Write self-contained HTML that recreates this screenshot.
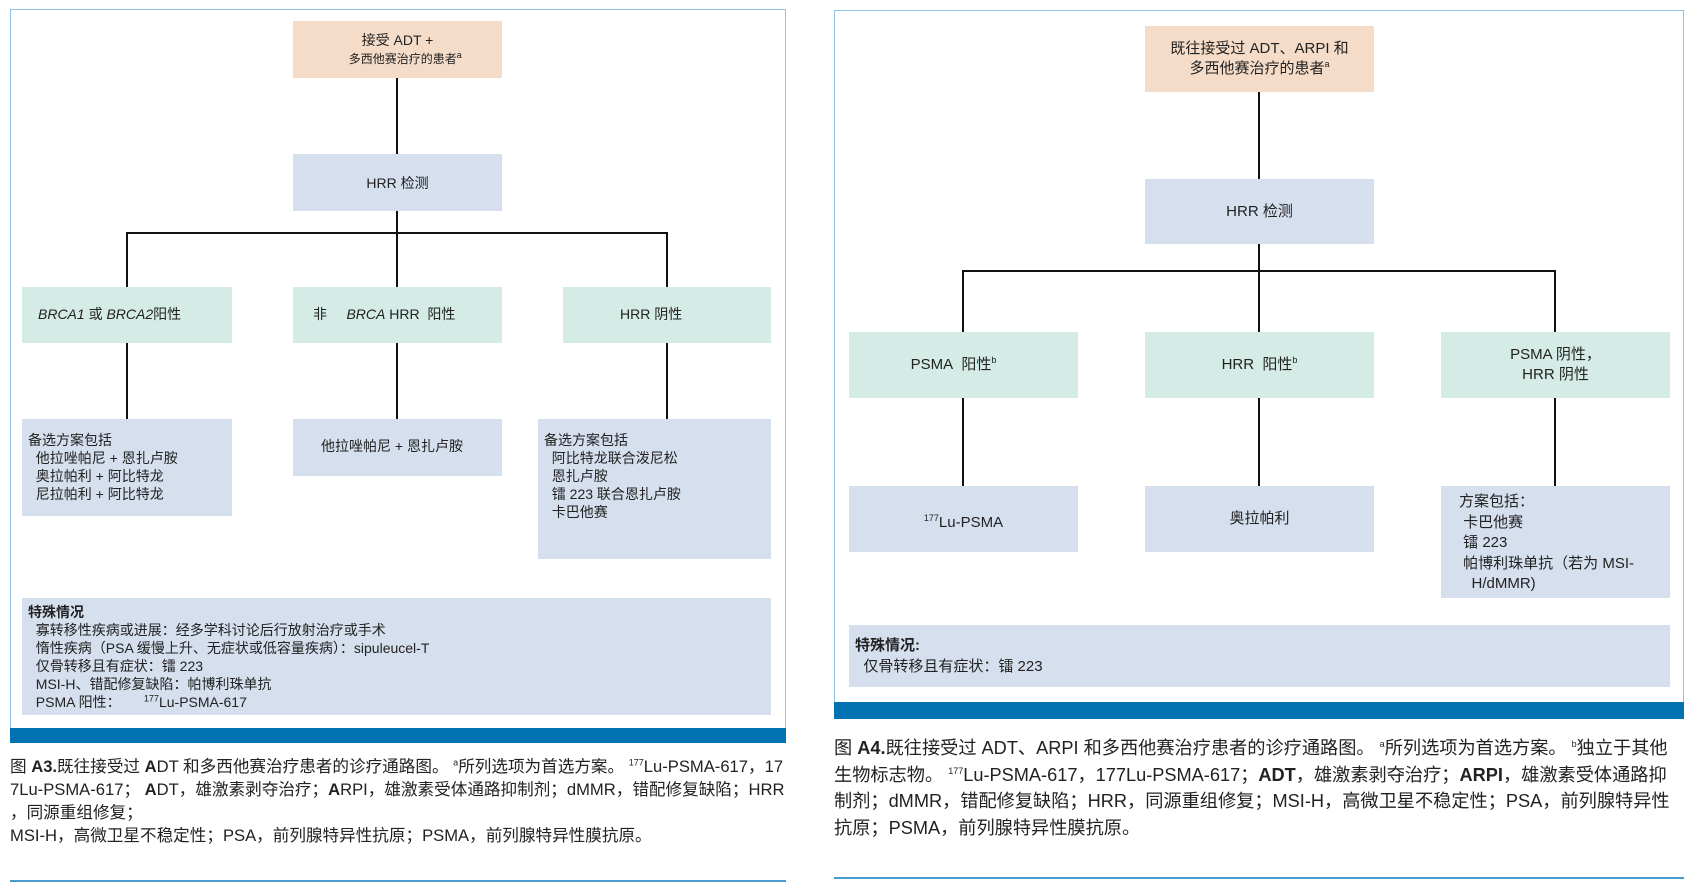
<!DOCTYPE html>
<html><head><meta charset="utf-8"><style>
body{margin:0;width:1691px;height:888px;background:#fff;position:relative;overflow:hidden;font-family:"Liberation Sans","Noto Sans CJK SC",sans-serif;color:#222}
.b{position:absolute;box-sizing:border-box;font-size:14px;line-height:18px}
.o{background:#f5dcc8}.u{background:#d6dfed}.g{background:#d4ebe6}
.c{display:flex;align-items:center;justify-content:center;text-align:center}
.v{position:absolute;width:2px;background:#111}
.h{position:absolute;height:2px;background:#111}
.panel{position:absolute;border:1.5px solid #8dc4e4;box-sizing:border-box}
.bar{position:absolute;background:#0072b1}
.cap{position:absolute;font-size:16.6px;line-height:23px;white-space:nowrap;color:#222}
.rule{position:absolute;height:2px;background:#4a9bd0}
sup{font-size:9px;line-height:0;vertical-align:super}
</style></head><body>
<!-- left panel -->
<div class="panel" style="left:10px;top:9px;width:776px;height:734px"></div>
<div class="bar" style="left:10px;top:728px;width:776px;height:15px"></div>
<div class="v" style="left:396px;top:78px;height:76px"></div>
<div class="v" style="left:396px;top:211px;height:76px"></div>
<div class="h" style="left:126px;top:232px;width:542px"></div>
<div class="v" style="left:126px;top:232px;height:55px"></div>
<div class="v" style="left:666px;top:232px;height:55px"></div>
<div class="v" style="left:126px;top:343px;height:76px"></div>
<div class="v" style="left:396px;top:343px;height:76px"></div>
<div class="v" style="left:666px;top:343px;height:76px"></div>
<div class="b o c" style="left:293px;top:21px;width:209px;height:57px"><div>接受 ADT +<br>&nbsp;&nbsp;&nbsp;&nbsp;<span style="font-size:12px">多西他赛治疗的患者<sup>a</sup></span></div></div>
<div class="b u c" style="left:293px;top:154px;width:209px;height:57px">HRR 检测</div>
<div class="b g" style="left:22px;top:287px;width:210px;height:56px;padding:18px 0 0 16px"><i>BRCA1</i> 或 <i>BRCA2</i>阳性</div>
<div class="b g" style="left:293px;top:287px;width:209px;height:56px;padding:18px 0 0 20px">非&nbsp;&nbsp;&nbsp;&nbsp;&nbsp;<i>BRCA</i> HRR&nbsp; 阳性</div>
<div class="b g" style="left:563px;top:287px;width:208px;height:56px;padding:18px 0 0 57px">HRR 阴性</div>
<div class="b u" style="left:22px;top:419px;width:210px;height:97px;padding:12px 0 0 6px">备选方案包括<br>&nbsp;&nbsp;他拉唑帕尼 + 恩扎卢胺<br>&nbsp;&nbsp;奥拉帕利 + 阿比特龙<br>&nbsp;&nbsp;尼拉帕利 + 阿比特龙</div>
<div class="b u" style="left:293px;top:419px;width:209px;height:57px;padding:18px 0 0 28px">他拉唑帕尼 + 恩扎卢胺</div>
<div class="b u" style="left:538px;top:419px;width:233px;height:140px;padding:12px 0 0 6px">备选方案包括<br>&nbsp;&nbsp;阿比特龙联合泼尼松<br>&nbsp;&nbsp;恩扎卢胺<br>&nbsp;&nbsp;镭 223 联合恩扎卢胺<br>&nbsp;&nbsp;卡巴他赛</div>
<div class="b u" style="left:22px;top:598px;width:749px;height:117px;padding:5px 0 0 6px"><b>特殊情况</b><br>&nbsp;&nbsp;寡转移性疾病或进展：经多学科讨论后行放射治疗或手术<br>&nbsp;&nbsp;惰性疾病（PSA 缓慢上升、无症状或低容量疾病）：sipuleucel-T<br>&nbsp;&nbsp;仅骨转移且有症状：镭 223<br>&nbsp;&nbsp;MSI-H、错配修复缺陷：帕博利珠单抗<br>&nbsp;&nbsp;PSMA 阳性：&nbsp;&nbsp;&nbsp;&nbsp;&nbsp;&nbsp;<sup>177</sup>Lu-PSMA-617</div>
<div class="cap" style="left:10px;top:755px">图 <b>A3.</b>既往接受过 <b>A</b>DT 和多西他赛治疗患者的诊疗通路图。 <sup>a</sup>所列选项为首选方案。 <sup>177</sup>Lu-PSMA-617，17</div>
<div class="cap" style="left:10px;top:778px">7Lu-PSMA-617； <b>A</b>DT，雄激素剥夺治疗；<b>A</b>RPI，雄激素受体通路抑制剂；dMMR，错配修复缺陷；HRR</div>
<div class="cap" style="left:10px;top:801px">，同源重组修复；</div>
<div class="cap" style="left:10px;top:824px">MSI-H，高微卫星不稳定性；PSA，前列腺特异性抗原；PSMA，前列腺特异性膜抗原。</div>
<div class="rule" style="left:10px;top:880px;width:776px"></div>

<!-- right panel -->
<div class="panel" style="left:834px;top:10px;width:850px;height:709px"></div>
<div class="bar" style="left:834px;top:702px;width:850px;height:17px"></div>
<div class="v" style="left:1258px;top:92px;height:87px"></div>
<div class="v" style="left:1258px;top:244px;height:88px"></div>
<div class="h" style="left:962px;top:270px;width:594px"></div>
<div class="v" style="left:962px;top:270px;height:62px"></div>
<div class="v" style="left:1554px;top:270px;height:62px"></div>
<div class="v" style="left:962px;top:398px;height:88px"></div>
<div class="v" style="left:1258px;top:398px;height:88px"></div>
<div class="v" style="left:1554px;top:398px;height:88px"></div>
<div class="b o c" style="left:1145px;top:26px;width:229px;height:66px;font-size:15px;line-height:20px"><div>既往接受过 ADT、ARPI 和<br>多西他赛治疗的患者<sup>a</sup></div></div>
<div class="b u c" style="left:1145px;top:179px;width:229px;height:65px;font-size:15px">HRR 检测</div>
<div class="b g c" style="left:849px;top:332px;width:229px;height:66px;font-size:15px;padding-right:20px"><span>PSMA&nbsp; 阳性<sup>b</sup></span></div>
<div class="b g c" style="left:1145px;top:332px;width:229px;height:66px;font-size:15px"><span>HRR&nbsp; 阳性<sup>b</sup></span></div>
<div class="b g c" style="left:1441px;top:332px;width:229px;height:66px;font-size:15px;line-height:20px"><div>PSMA 阴性，<br>HRR 阴性</div></div>
<div class="b u c" style="left:849px;top:486px;width:229px;height:66px;font-size:15px;padding-top:8px"><span><sup>177</sup>Lu-PSMA</span></div>
<div class="b u c" style="left:1145px;top:486px;width:229px;height:66px;font-size:15px">奥拉帕利</div>
<div class="b u" style="left:1441px;top:486px;width:229px;height:112px;font-size:15px;line-height:20.5px;padding:6px 0 0 18px">方案包括：<br>&nbsp;卡巴他赛<br>&nbsp;镭 223<br>&nbsp;帕博利珠单抗（若为 MSI-<br>&nbsp;&nbsp;&nbsp;H/dMMR)</div>
<div class="b u" style="left:849px;top:625px;width:821px;height:62px;font-size:15px;line-height:21px;padding:10px 0 0 6px"><b>特殊情况:</b><br>&nbsp;&nbsp;仅骨转移且有症状：镭 223</div>
<div class="cap" style="left:834px;top:735px;font-size:18.2px;line-height:26.5px">图 <b>A4.</b>既往接受过 ADT、ARPI 和多西他赛治疗患者的诊疗通路图。 <sup>a</sup>所列选项为首选方案。 <sup>b</sup>独立于其他<br>生物标志物。 <sup>177</sup>Lu-PSMA-617，177Lu-PSMA-617；<b>ADT</b>，雄激素剥夺治疗；<b>ARPI</b>，雄激素受体通路抑<br>制剂；dMMR，错配修复缺陷；HRR，同源重组修复；MSI-H，高微卫星不稳定性；PSA，前列腺特异性<br>抗原；PSMA，前列腺特异性膜抗原。</div>
<div class="rule" style="left:834px;top:877px;width:850px"></div>
</body></html>
